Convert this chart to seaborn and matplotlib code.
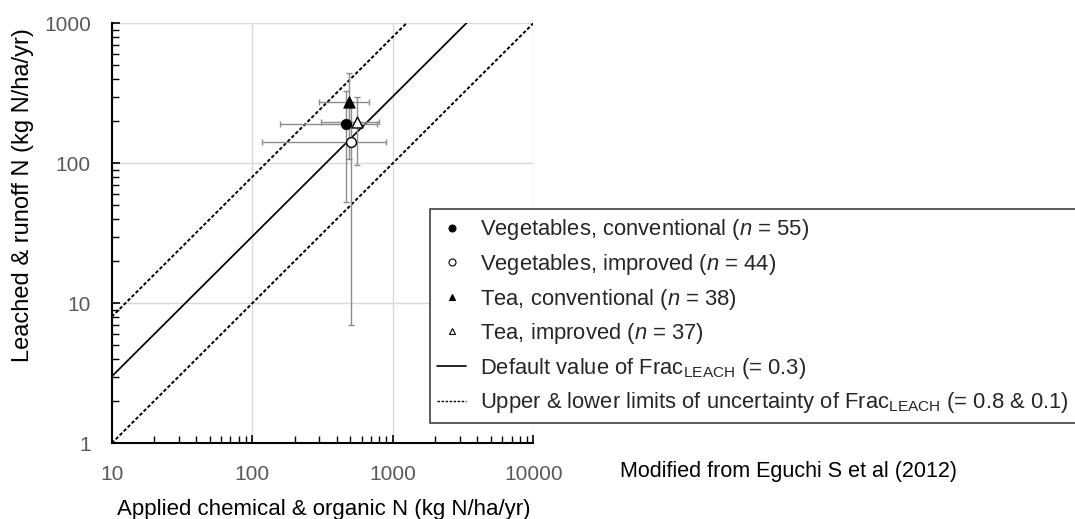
import matplotlib.pyplot as plt
import seaborn as sns
from matplotlib.lines import Line2D
from matplotlib.ticker import NullFormatter

# DATA
groups = ["Vegetables, conventional", "Vegetables, improved",
          "Tea, conventional", "Tea, improved"]
n_values = [55, 44, 38, 37]
applied_n = [464, 507, 488, 553]       # kg N/ha/yr
applied_sd = [307, 390, 188, 243]
leached_n = [190, 141, 274, 198]       # kg N/ha/yr
leached_sd = [137, 134, 166, 100]

frac_default = 0.3
frac_limits = [0.8, 0.1]
x_range = [10, 10000]

x_ticks = [10, 100, 1000, 10000]
y_ticks = [1, 10, 100, 1000]

# marker styles for each group
markers = ["o", "o", "^", "^"]
faces = ["black", "white", "black", "white"]

sns.set_theme(style="ticks")
plt.rcParams["font.family"] = ["Liberation Sans", "DejaVu Sans"]
plt.rcParams["mathtext.fontset"] = "custom"
plt.rcParams["mathtext.rm"] = "Liberation Sans"
plt.rcParams["mathtext.it"] = "Liberation Sans:italic"

W, H = 1075, 519
fig = plt.figure(figsize=(W / 100, H / 100), dpi=100)
ax = fig.add_axes([111.7 / W, 1 - 443.3 / H, (533.3 - 111.7) / W, (443.3 - 23.3) / H])

ax.set_xscale("log")
ax.set_yscale("log")

# Frac lines
dash = (0, (1.8, 1.1))
sns.lineplot(x=x_range, y=[frac_default * v for v in x_range], ax=ax,
             color="black", lw=1.25, zorder=2)
for f in frac_limits:
    sns.lineplot(x=x_range, y=[f * v for v in x_range], ax=ax,
                 color="black", lw=1.4, linestyle=dash, zorder=2)

# error bars
ax.errorbar(applied_n, leached_n, xerr=applied_sd, yerr=leached_sd, fmt="none",
            ecolor="#8c8c8c", elinewidth=1.0, capsize=2.5, capthick=1.0, zorder=3)

# points
for i in range(len(groups)):
    sns.scatterplot(x=[applied_n[i]], y=[leached_n[i]], ax=ax, marker=markers[i],
                    s=50 if markers[i] == "o" else 62, color=faces[i],
                    edgecolor="black", linewidth=1.0, zorder=4, legend=False)

ax.set_xlim(10, 10000)
ax.set_ylim(1, 1000)
ax.set_xticks(x_ticks)
ax.set_xticklabels([str(t) for t in x_ticks])
ax.set_yticks(y_ticks)
ax.set_yticklabels([str(t) for t in y_ticks])
ax.xaxis.set_minor_formatter(NullFormatter())
ax.yaxis.set_minor_formatter(NullFormatter())

ax.set_axisbelow(True)
ax.grid(True, which="major", color="#d9d9d9", lw=1.0)
ax.grid(False, which="minor")
for side in ["top", "right"]:
    ax.spines[side].set_visible(False)
for side in ["left", "bottom"]:
    ax.spines[side].set_color("black")
    ax.spines[side].set_linewidth(1.5)

ax.tick_params(which="both", direction="in", color="black", labelcolor="#595959",
               labelsize=15)
ax.tick_params(which="major", length=6, width=1.2)
ax.tick_params(which="minor", length=5, width=1.0)
ax.tick_params(axis="x", which="major", pad=15.5)
ax.tick_params(axis="y", which="major", pad=15)
ax.set_xlabel("")
ax.set_ylabel("")

# axis titles and note
fig.text(324 / W, 1 - 509 / H, "Applied chemical & organic N (kg N/ha/yr)",
         ha="center", va="center", fontsize=16, color="black")
fig.text(23 / W, 1 - 195 / H, "Leached & runoff N (kg N/ha/yr)", rotation=90,
         ha="center", va="center", fontsize=17, color="black")
fig.text(620 / W, 1 - 471.7 / H, "Modified from Eguchi S et al (2012)",
         ha="left", va="center", fontsize=15.5, color="black")

# legend
handles = []
labels = []
for i in range(len(groups)):
    handles.append(Line2D([], [], linestyle="none", marker=markers[i], markersize=5,
                          markerfacecolor=faces[i], markeredgecolor="black",
                          markeredgewidth=0.8))
    labels.append(groups[i] + r" ($\mathit{n}$ = %d)" % n_values[i])
handles.append(Line2D([], [], color="black", lw=1.2))
labels.append(r"Default value of Frac$_\mathrm{LEACH}$ (= %.1f)" % frac_default)
handles.append(Line2D([], [], color="black", lw=1.0, linestyle=dash))
labels.append(r"Upper & lower limits of uncertainty of Frac$_\mathrm{LEACH}$ (= %.1f & %.1f)"
              % (frac_limits[0], frac_limits[1]))

leg = fig.legend(handles, labels, loc="upper left",
                 bbox_to_anchor=(429.5 / W, 1 - 209.3 / H), bbox_transform=fig.transFigure,
                 borderaxespad=0, borderpad=0.36, frameon=True, fancybox=False,
                 fontsize=15.8, handlelength=1.3, handletextpad=0.62, labelspacing=0.44)
leg.get_frame().set_edgecolor("#404040")
leg.get_frame().set_linewidth(1.2)
leg.get_frame().set_facecolor("white")
leg.get_frame().set_alpha(1)

fig.savefig("out.png", dpi=100)
